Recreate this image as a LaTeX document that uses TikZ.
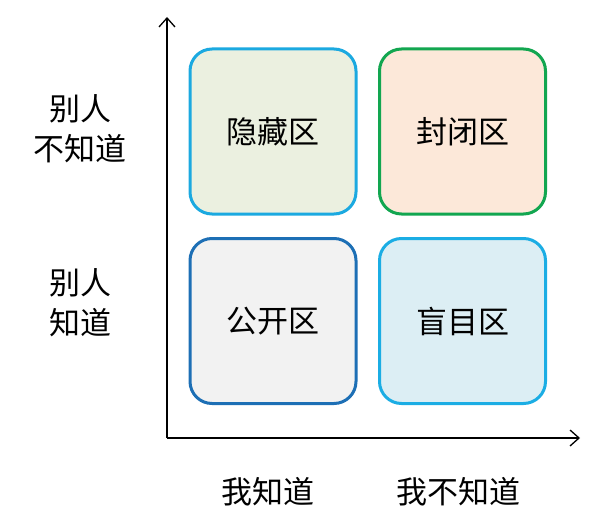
\documentclass[tikz,border=0pt]{standalone}
\usepackage{fontspec}
\setmainfont{Noto Sans CJK SC}
\usetikzlibrary{arrows.meta}
\definecolor{bTL}{HTML}{1BA9E0}\definecolor{fTL}{HTML}{EBF0E0}
\definecolor{bTR}{HTML}{12A650}\definecolor{fTR}{HTML}{FCE8D9}
\definecolor{bBL}{HTML}{1D6FB5}\definecolor{fBL}{HTML}{F2F2F2}
\definecolor{bBR}{HTML}{1BADE4}\definecolor{fBR}{HTML}{DCEEF4}
\begin{document}
\begin{tikzpicture}[x=1pt,y=-1pt,
  zone/.style={draw, line width=3pt, rounded corners=22pt, minimum width=166pt, minimum height=165pt, inner sep=0pt, font=\fontsize{31}{34}\selectfont},
  lbl/.style={font=\fontsize{31}{40}\selectfont, align=center, inner sep=0pt},
  axis/.style={line width=1.3pt, -{Straight Barb[length=9pt,width=16pt,line width=1.3pt]}}]
\useasboundingbox (0,0) rectangle (594,519);
\coordinate (o) at (167,438);
\coordinate (ytop) at (167,17);
\coordinate (xend) at (580,438);
\draw[axis] (o) -- (ytop);
\draw[axis] (o) -- (xend);
\node[zone, draw=bTL, fill=fTL] (hid) at (273,131.5) {隐藏区};
\node[zone, draw=bTR, fill=fTR] (clo) at (462.5,131.5) {封闭区};
\node[zone, draw=bBL, fill=fBL] (pub) at (273,321) {公开区};
\node[zone, draw=bBR, fill=fBR] (bli) at (462.5,321) {盲目区};
\node[lbl] (l1) at (80,129) {别人\\不知道};
\node[lbl] (l2) at (80,303) {别人\\知道};
\node[lbl] (b1) at (268,492) {我知道};
\node[lbl] (b2) at (458,492) {我不知道};
\end{tikzpicture}
\end{document}
